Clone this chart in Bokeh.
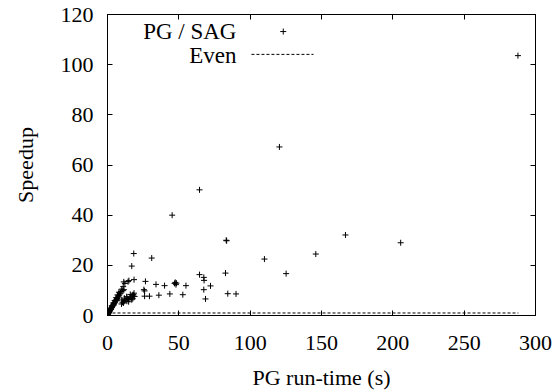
from bokeh.plotting import figure
from bokeh.models import Range1d, LinearAxis, FixedTicker, CustomJSTickFormatter
from bokeh.core.properties import value
from bokeh.embed import file_html
from bokeh.resources import INLINE

# PG / SAG measurements: PG run-time (s) and speedup
run_time = [287.7, 120.5, 64.5, 45.3, 83.2, 83.5, 166.8, 205.5, 146.0, 110.0,
            125.2, 18.4, 31.0, 17.0, 64.5, 67.5, 82.7, 67.7, 72.2, 67.5,
            68.7, 84.3, 90.1, 55.0, 47.0, 48.3, 48.0, 47.5, 40.0, 34.0,
            26.6, 18.6, 11.4, 14.4, 52.8, 43.7, 36.0, 26.0, 26.0, 29.4,
            17.8, 17.7, 15.0, 11.5, 25.5,
            0.1, 0.2, 0.3, 0.5, 0.6, 0.8, 0.9, 1.1, 1.3, 1.4,
            1.6, 1.8, 2.0, 2.2, 2.4, 2.6, 2.9, 3.1, 3.3, 3.6,
            3.8, 4.1, 4.4, 4.7, 5.0, 5.3, 5.6, 6.0, 6.3, 6.7,
            7.0, 7.4, 7.8, 8.2, 8.6, 9.0,
            1.0, 2.0, 3.0, 4.0, 5.0, 6.0, 7.0, 8.0, 2.5, 4.5, 6.5,
            10.0, 11.0, 12.2, 9.5, 10.8,
            9.8, 10.5, 11.2, 12.0, 12.8, 13.6, 14.2, 15.0, 15.8, 16.6,
            17.4, 18.2, 19.0, 11.8, 13.4, 16.0, 18.6, 14.8, 10.0, 17.0]
speedup = [103.6, 67.2, 50.1, 40.0, 30.0, 29.8, 32.1, 29.0, 24.5, 22.5,
           16.7, 24.7, 22.9, 19.7, 16.3, 15.2, 16.9, 14.0, 11.8, 10.3,
           6.6, 8.7, 8.6, 11.9, 12.8, 12.9, 12.3, 13.2, 11.9, 12.4,
           13.6, 14.3, 13.4, 13.5, 8.3, 8.6, 8.1, 9.8, 7.7, 7.7,
           8.3, 6.7, 13.9, 10.3, 10.3,
           0.3, 0.4, 0.6, 0.7, 0.9, 1.0, 1.2, 1.3, 1.6, 1.7,
           1.9, 2.1, 2.3, 2.5, 2.7, 2.9, 3.2, 3.3, 3.6, 3.8,
           4.1, 4.3, 4.6, 4.9, 5.2, 5.4, 5.8, 6.1, 6.4, 6.8,
           7.0, 7.4, 7.8, 8.1, 8.6, 8.9,
           1.6, 2.8, 3.9, 5.0, 6.0, 7.1, 8.2, 9.3, 2.5, 4.2, 5.9,
           10.5, 11.5, 12.8, 9.6, 9.9,
           4.6, 5.3, 5.0, 5.9, 6.3, 5.7, 6.8, 6.5, 7.3, 7.0,
           7.8, 8.2, 7.6, 6.9, 7.5, 8.4, 8.9, 5.5, 6.2, 6.3]

# "Even" reference line (speedup = 1)
even_x = [0, 288]
even_y = [1, 1]

x_ticks = [0, 50, 100, 150, 200, 250, 300]
y_ticks = [0, 20, 40, 60, 80, 100, 120]

FONT = "Liberation Serif"
FS = "22px"

p = figure(width=560, height=392, output_backend="svg", toolbar_location=None,
           x_range=Range1d(0, 300), y_range=Range1d(0, 120),
           min_border_left=107, min_border_right=25,
           min_border_top=14, min_border_bottom=77)
p.background_fill_color = "white"
p.border_fill_color = "white"
p.outline_line_color = "black"
p.outline_line_width = 1
p.xgrid.visible = False
p.ygrid.visible = False

for ax in (p.xaxis[0], p.yaxis[0]):
    ax.major_tick_in = 5
    ax.major_tick_out = 0
    ax.minor_tick_line_color = None
    ax.axis_line_color = "black"
    ax.major_tick_line_color = "black"
    ax.major_label_text_font = FONT
    ax.major_label_text_font_size = FS
    ax.major_label_text_color = "black"
    ax.axis_label_text_font = FONT
    ax.axis_label_text_font_size = FS
    ax.axis_label_text_font_style = "normal"
    ax.axis_label_text_color = "black"

p.xaxis[0].ticker = FixedTicker(ticks=x_ticks)
p.yaxis[0].ticker = FixedTicker(ticks=y_ticks)
p.xaxis[0].axis_label = "PG run-time (s)"
p.yaxis[0].axis_label = "Speedup"
p.xaxis[0].major_label_standoff = 20
p.yaxis[0].major_label_standoff = 14
p.xaxis[0].axis_label_standoff = 12
p.yaxis[0].axis_label_standoff = 20

blank = CustomJSTickFormatter(code="return ''")
for loc, ticks in (("above", x_ticks), ("right", y_ticks)):
    ax = LinearAxis(ticker=FixedTicker(ticks=ticks), formatter=blank)
    ax.major_tick_in = 5
    ax.major_tick_out = 0
    ax.minor_tick_line_color = None
    ax.axis_line_color = "black"
    ax.major_tick_line_color = "black"
    ax.major_label_text_font_size = "1px"
    ax.major_label_standoff = 0
    p.add_layout(ax, loc)

p.line(even_x, even_y, line_color="black", line_width=1, line_dash="3 2")
p.scatter(run_time, speedup, marker="cross", size=6, line_color="black", line_width=1)

# Legend (text on the left, sample on the right, like the original)
p.text(x=[90.4, 90.4], y=[113.2, 103.7], text=["PG / SAG", "Even"],
       text_align="right", text_baseline="middle",
       text_font=value(FONT), text_font_size="23px", text_color="black")
p.scatter([123.2], [113.2], marker="cross", size=6, line_color="black", line_width=1)
p.line([100.9, 144.4], [104.1, 104.1], line_color="black", line_width=1, line_dash="3 2")

open("out.html", "w").write(file_html(p, INLINE))
